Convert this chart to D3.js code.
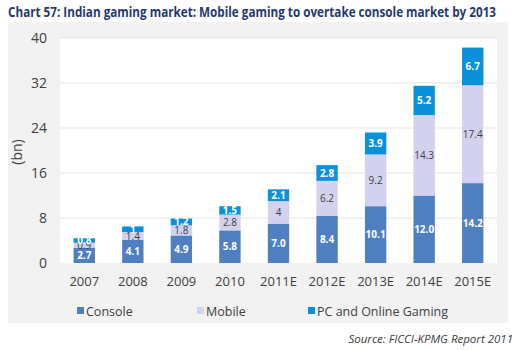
<!DOCTYPE html>
<html>

<head>
	<meta charset="utf-8">
	<script src="https://cdn.jsdelivr.net/npm/d3@7"></script>
	<style>
		body {
			margin: 0;
			background: white;
		}

		svg {
			font-family: "Open Sans", "Noto Sans", sans-serif;
		}
	</style>
</head>

<body>
	<svg></svg>
	<script>
		var width = 520;
		var height = 350;

		// chart data
		var years = ["2007", "2008", "2009", "2010", "2011E", "2012E", "2013E", "2014E", "2015E"];
		var consoleVals = [2.7, 4.1, 4.9, 5.8, 7.0, 8.4, 10.1, 12.0, 14.2];
		var mobileVals = [0.9, 1.4, 1.8, 2.8, 4, 6.2, 9.2, 14.3, 17.4];
		var pcVals = [0.8, 1, 1.2, 1.5, 2.1, 2.8, 3.9, 5.2, 6.7];
		var consoleLabels = ["2.7", "4.1", "4.9", "5.8", "7.0", "8.4", "10.1", "12.0", "14.2"];
		var mobileLabels = ["0.9", "1.4", "1.8", "2.8", "4", "6.2", "9.2", "14.3", "17.4"];
		var pcLabels = ["0.8", "1", "1.2", "1.5", "2.1", "2.8", "3.9", "5.2", "6.7"];
		var seriesNames = ["Console", "Mobile", "PC and Online Gaming"];
		var yTicks = [0, 8, 16, 24, 32, 40];

		var colors = ["#4f7fc0", "#d3d1f0", "#0b90dc"];
		var labelStyle = [
			{ fill: "white", weight: "bold" },
			{ fill: "#404040", weight: "normal" },
			{ fill: "white", weight: "bold" }
		];

		var plot = { left: 60, right: 497, top: 38, bottom: 263 };

		var svg = d3.select("svg")
			.attr("width", width)
			.attr("height", height);

		// grey panel behind the chart
		svg.append("rect")
			.attr("x", 8).attr("y", 22)
			.attr("width", 500).attr("height", 301)
			.attr("fill", "#f2f2f2");

		svg.append("rect")
			.attr("x", plot.left).attr("y", plot.top)
			.attr("width", plot.right - plot.left).attr("height", plot.bottom - plot.top)
			.attr("fill", "white");

		// title
		svg.append("text")
			.attr("x", 8).attr("y", 17)
			.attr("fill", "#1f3a6e")
			.attr("font-size", 14)
			.attr("font-weight", "bold")
			.attr("textLength", 488)
			.attr("lengthAdjust", "spacingAndGlyphs")
			.text("Chart 57: Indian gaming market: Mobile gaming to overtake console market by 2013");

		var x = d3.scaleBand()
			.domain(years)
			.range([plot.left, plot.right])
			.paddingInner(0.56)
			.paddingOuter(0.28);

		var y = d3.scaleLinear()
			.domain([0, 40])
			.range([plot.bottom, plot.top]);

		// gridlines
		svg.append("g")
			.selectAll("line")
			.data(yTicks.slice(1))
			.enter()
			.append("line")
			.attr("x1", plot.left).attr("x2", plot.right)
			.attr("y1", d => y(d)).attr("y2", d => y(d))
			.attr("stroke", "#e6e6e6")
			.attr("stroke-width", 1);

		// y axis labels
		var yAxis = svg.append("g")
			.attr("transform", "translate(" + (plot.left - 4) + ",0)")
			.call(d3.axisLeft(y).tickValues(yTicks).tickSize(0).tickPadding(9));
		yAxis.select(".domain").remove();
		yAxis.selectAll("text")
			.attr("font-size", 14)
			.attr("fill", "#404040")
			.attr("font-family", "Open Sans, sans-serif");

		svg.append("text")
			.attr("transform", "translate(22,152) rotate(-90)")
			.attr("text-anchor", "middle")
			.attr("font-size", 14)
			.attr("fill", "#404040")
			.text("(bn)");

		// x axis labels
		var xAxis = svg.append("g")
			.attr("transform", "translate(0," + plot.bottom + ")")
			.call(d3.axisBottom(x).tickSize(0).tickPadding(14));
		xAxis.select(".domain").remove();
		xAxis.selectAll("text")
			.attr("font-size", 13)
			.attr("fill", "#404040")
			.attr("font-family", "Open Sans, sans-serif");

		// stack the three series
		var rows = years.map((yr, i) => ({
			year: yr,
			Console: consoleVals[i],
			Mobile: mobileVals[i],
			"PC and Online Gaming": pcVals[i]
		}));
		var labels = [consoleLabels, mobileLabels, pcLabels];
		var stacked = d3.stack().keys(seriesNames)(rows);

		var layers = svg.selectAll(".layer")
			.data(stacked)
			.enter()
			.append("g")
			.attr("class", "layer");

		layers.selectAll("rect")
			.data(d => d)
			.enter()
			.append("rect")
			.attr("x", d => x(d.data.year))
			.attr("width", x.bandwidth())
			.attr("y", d => y(d[1]))
			.attr("height", d => y(d[0]) - y(d[1]))
			.attr("fill", function () {
				return colors[d3.select(this.parentNode).datum().index];
			});

		layers.each(function (layer) {
			var k = layer.index;
			d3.select(this).selectAll("text")
				.data(layer)
				.enter()
				.append("text")
				.attr("x", d => x(d.data.year) + x.bandwidth() / 2)
				.attr("y", d => (y(d[0]) + y(d[1])) / 2)
				.attr("dy", "0.35em")
				.attr("text-anchor", "middle")
				.attr("font-size", 10)
				.attr("font-weight", labelStyle[k].weight)
				.attr("fill", labelStyle[k].fill)
				.text((d, i) => labels[k][i]);
		});

		// legend
		var legendX = [77, 197, 308];
		var legend = svg.selectAll(".legend")
			.data(seriesNames)
			.enter()
			.append("g")
			.attr("class", "legend")
			.attr("transform", (d, i) => "translate(" + legendX[i] + ",312)");
		legend.append("rect")
			.attr("x", 0).attr("y", -5)
			.attr("width", 7).attr("height", 7)
			.attr("fill", (d, i) => colors[i]);
		legend.append("text")
			.attr("x", 9).attr("y", 0)
			.attr("dy", "0.35em")
			.attr("font-size", 12.5)
			.attr("fill", "#404040")
			.text(d => d);

		// source note
		svg.append("text")
			.attr("x", 513).attr("y", 343)
			.attr("text-anchor", "end")
			.attr("font-size", 11.5)
			.attr("font-style", "italic")
			.attr("fill", "#404040")
			.text("Source: FICCI-KPMG Report 2011");
	</script>
</body>

</html>
